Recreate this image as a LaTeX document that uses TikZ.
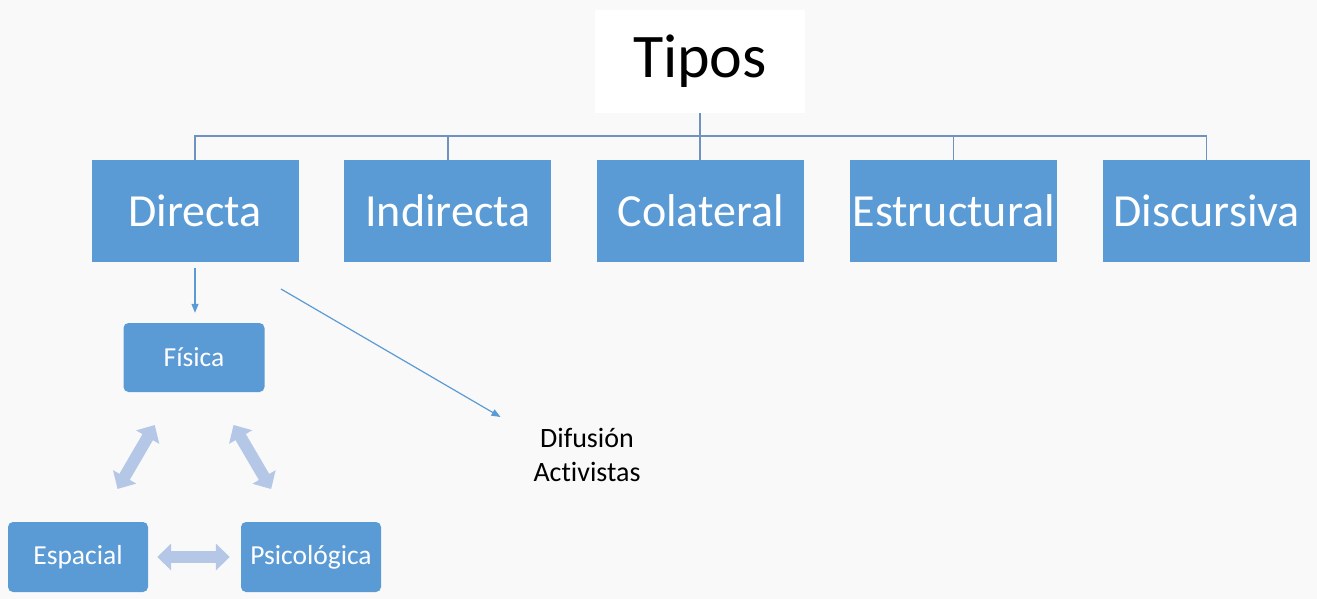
\documentclass[tikz,border=0pt]{standalone}
\definecolor{boxblue}{RGB}{91, 155, 213}
\definecolor{treeline}{RGB}{112, 146, 190}
\definecolor{paleblue}{RGB}{180, 199, 231}
\definecolor{bggray}{RGB}{249, 249, 249}
\usepackage{fontspec}
\setmainfont{Carlito}[Ligatures=NoCommon]
\usetikzlibrary{arrows.meta, positioning, calc}

\begin{document}
\begin{tikzpicture}[x=1pt, y=-1pt,
    tipo/.style={fill=boxblue, text=white, minimum width=207pt, minimum height=102pt, inner sep=0pt, font=\fontsize{46}{55}\selectfont},
    sub/.style={fill=boxblue, text=white, rounded corners=5pt, minimum width=141pt, minimum height=69pt, inner sep=0pt, font=\fontsize{27.5}{33}\selectfont},
    tree/.style={draw=treeline, line width=1.3pt},
    link/.style={draw=boxblue, line width=1.2pt, -{Triangle[length=9pt, width=7pt]}},
    dbl/.style={draw=paleblue, line width=12pt, {Triangle[length=14pt, width=26pt]}-{Triangle[length=14pt, width=26pt]}}]
    % Background
    \path[fill=bggray, use as bounding box] (0,0) rectangle (1317,599);
    % Title
    \node[fill=white, minimum width=210pt, minimum height=103pt, font=\fontsize{62}{74}\selectfont] (tipos) at (700,61.5) {Tipos};
    % Types
    \node[tipo] (directa) at (195,211) {Directa};
    \node[tipo, right=45.5pt of directa] (indirecta) {Indirecta};
    \node[tipo, right=45.5pt of indirecta] (colateral) {Colateral};
    \node[tipo, right=45.5pt of colateral] (estructural) {Estructural};
    \node[tipo, right=45.5pt of estructural] (discursiva) {Discursiva};
    % Tree lines
    \coordinate (bus) at (700,136);
    \draw[tree] (tipos.south) -- (tipos.south |- colateral.north);
    \draw[tree] (directa.north) |- (bus) -| (discursiva.north);
    \foreach \n in {indirecta, estructural}
        \draw[tree] (\n.north) -- (\n.north |- bus);
    % Directa
    \node[sub] (fisica) at (194,357.5) {Física};
    \node[sub, minimum width=140pt, minimum height=70pt] (espacial) at (78,557) {Espacial};
    \node[sub, minimum width=140pt, minimum height=70pt] (psico) at (311,557) {Psicológica};
    \node[font=\fontsize{28}{34}\selectfont, align=center, inner sep=0pt] (difusion) at (587,455) {Difusión\\Activistas};
    \coordinate (dstart) at (281,289);
    \draw[link, shorten <=6pt, shorten >=10pt] (directa.south) -- (directa.south |- fisica.north);
    \draw[link, shorten >=38pt] (dstart) -- ($(difusion.north west)!0.15!(difusion.south west)$);
    % Double arrows
    \draw[dbl, shorten <=38pt, shorten >=38pt] (fisica) -- (espacial);
    \draw[dbl, shorten <=38pt, shorten >=38pt] (fisica) -- (psico);
    \draw[dbl, shorten <=9pt, shorten >=11pt] (espacial) -- (psico);
\end{tikzpicture}
\end{document}
